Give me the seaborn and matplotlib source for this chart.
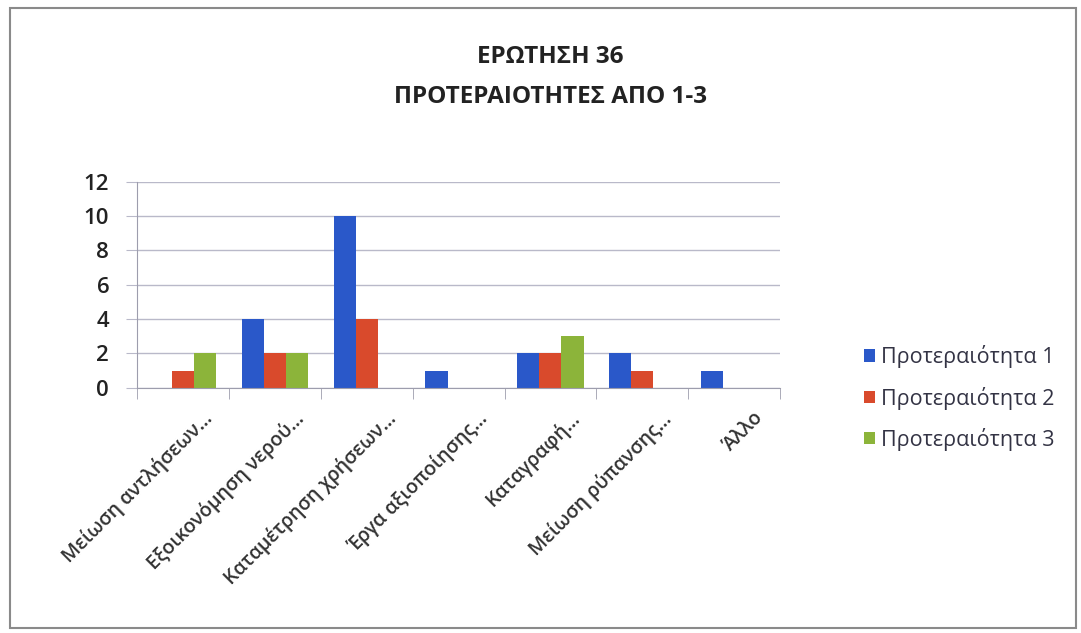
import numpy as np
import pandas as pd
import matplotlib
matplotlib.use("Agg")
from matplotlib import pyplot as plt
from matplotlib.patches import Rectangle
from matplotlib.transforms import ScaledTranslation
import seaborn as sns

categories = ["Μείωση αντλήσεων…", "Εξοικονόμηση νερού…", "Καταμέτρηση χρήσεων…",
              "Έργα αξιοποίησης…", "Καταγραφή…", "Μείωση ρύπανσης…", "Άλλο"]
series = ["Προτεραιότητα 1", "Προτεραιότητα 2", "Προτεραιότητα 3"]
p1 = [0, 4, 10, 1, 2, 2, 1]
p2 = [1, 2, 4, 0, 2, 1, 0]
p3 = [2, 2, 0, 0, 3, 0, 0]
colors = ["#2a58c9", "#d94a2c", "#8cb43a"]

df = pd.DataFrame({
    "cat": categories * 3,
    "val": p1 + p2 + p3,
    "ser": [series[0]] * 7 + [series[1]] * 7 + [series[2]] * 7,
})

sns.set_style("white")
plt.rcParams['font.family'] = ['Open Sans', 'DejaVu Sans']

fig = plt.figure(figsize=(10.81, 6.33), dpi=100)
ax = fig.add_axes([0.1267, 0.3875, 0.595, 0.3255])

sns.barplot(data=df, x="cat", y="val", hue="ser", palette=colors,
            width=0.72, saturation=1, linewidth=0, ax=ax, legend=True)

ax.set_ylim(0, 12)
ax.set_yticks(range(0, 13, 2))
ax.set_xlim(-0.5, 6.5)
ax.yaxis.grid(True, color="#b9b9c9", linewidth=1)
ax.set_axisbelow(True)
for s in ["top", "right"]:
    ax.spines[s].set_visible(False)
ax.spines["left"].set_color("#9d9dad")
ax.spines["bottom"].set_color("#9d9dad")
ax.set_xlabel("")
ax.set_ylabel("")

# category separators below axis
ax.set_xticks(np.arange(-0.5, 7, 1), minor=True)
ax.tick_params(axis="x", which="minor", length=8, color="#9d9dad", bottom=True)
ax.tick_params(axis="x", which="major", length=0, pad=2)
ax.tick_params(axis="y", length=8, color="#b9b9c9", left=True, labelsize=16, pad=12)
for lab in ax.get_yticklabels():
    lab.set_color("#222222")
    lab.set_fontweight("semibold")

ax.set_xticks(range(7))
ax.set_xticklabels(categories, rotation=45, ha="right", rotation_mode="anchor",
                   fontsize=14, fontweight="semibold", color="#333333")
off = ScaledTranslation(0.19, -0.18, fig.dpi_scale_trans)
for lab in ax.get_xticklabels():
    lab.set_transform(lab.get_transform() + off)

leg = ax.legend(loc="center left", bbox_to_anchor=(1.1, -0.05), frameon=False,
                fontsize=15.5, handlelength=0.5, handleheight=0.5, handletextpad=0.3,
                labelspacing=0.85, labelcolor="#333344")

fig.text(0.509, 0.9095, "ΕΡΩΤΗΣΗ 36", ha="center", va="center",
         fontsize=17.5, fontweight="bold", color="#222222")
fig.text(0.509, 0.847, "ΠΡΟΤΕΡΑΙΟΤΗΤΕΣ ΑΠΟ 1-3", ha="center", va="center",
         fontsize=17.5, fontweight="bold", color="#222222")

fig.patches.append(Rectangle((0.009, 0.008), 0.986, 0.98, transform=fig.transFigure,
                             fill=False, edgecolor="#8a8a8a", linewidth=1.5))

fig.savefig("out.png", dpi=100, facecolor="white")
